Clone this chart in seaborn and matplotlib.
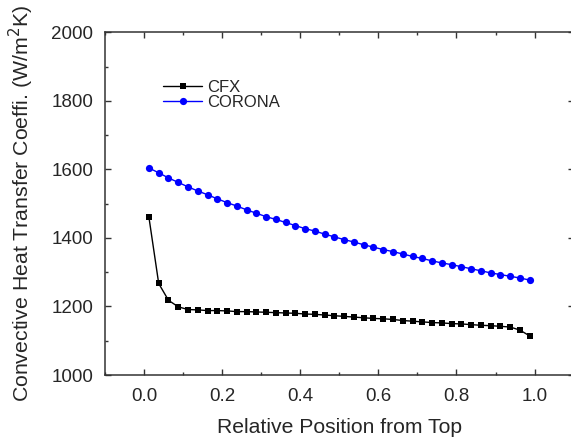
import matplotlib
matplotlib.use("Agg")
import matplotlib.pyplot as plt
import seaborn as sns
from matplotlib.ticker import MultipleLocator

# relative position from top (same positions for both series)
position = [0.0125, 0.0375, 0.0625, 0.0875, 0.1125, 0.1375, 0.1625, 0.1875,
            0.2125, 0.2375, 0.2625, 0.2875, 0.3125, 0.3375, 0.3625, 0.3875,
            0.4125, 0.4375, 0.4625, 0.4875, 0.5125, 0.5375, 0.5625, 0.5875,
            0.6125, 0.6375, 0.6625, 0.6875, 0.7125, 0.7375, 0.7625, 0.7875,
            0.8125, 0.8375, 0.8625, 0.8875, 0.9125, 0.9375, 0.9625, 0.9875]

cfx = [1460, 1267, 1218, 1199, 1191, 1190, 1188, 1188, 1187, 1185,
       1185, 1184, 1183, 1182, 1181, 1180, 1178, 1177, 1175, 1173,
       1171, 1169, 1167, 1165, 1164, 1162, 1159, 1157, 1155, 1153,
       1152, 1150, 1149, 1147, 1145, 1144, 1142, 1140, 1131, 1114]

corona = [1604, 1590, 1575, 1562, 1549, 1537, 1526, 1514, 1503, 1493,
          1482, 1472, 1462, 1454, 1445, 1436, 1427, 1420, 1411, 1403,
          1395, 1388, 1380, 1373, 1366, 1360, 1353, 1346, 1340, 1333,
          1327, 1322, 1316, 1310, 1304, 1298, 1293, 1288, 1283, 1277]

sns.set_style("ticks")
plt.rcParams['font.family'] = ['Liberation Sans', 'DejaVu Sans']

fig = plt.figure(figsize=(5.71, 4.44), dpi=100)
# right edge of the frame sits just outside the picture, like the original
ax = fig.add_axes([0.1839, 0.1554, 0.8207, 0.7719])

sns.lineplot(x=position, y=cfx, ax=ax, color="black", marker="s",
             markersize=4.3, markeredgewidth=0, linewidth=1.0, label="CFX")
sns.lineplot(x=position, y=corona, ax=ax, color="#0000ff", marker="o",
             markersize=5.2, markeredgewidth=0, linewidth=1.0,
             label="CORONA")

ax.set_xlim(-0.1, 1.1)
ax.set_ylim(1000, 2000)
ax.xaxis.set_major_locator(MultipleLocator(0.2))
ax.xaxis.set_minor_locator(MultipleLocator(0.1))
ax.yaxis.set_major_locator(MultipleLocator(200))
ax.yaxis.set_minor_locator(MultipleLocator(100))
ax.set_xticks([0.0, 0.2, 0.4, 0.6, 0.8, 1.0])
ax.set_xticklabels(["0.0", "0.2", "0.4", "0.6", "0.8", "1.0"])

ax.tick_params(which="both", direction="in", top=True, right=True,
               width=1.0, color="#333333")
ax.tick_params(which="major", length=4.5, labelsize=13.5)
ax.tick_params(axis="x", which="major", pad=9.5)
ax.tick_params(axis="y", which="major", pad=8.4)
ax.tick_params(which="minor", length=2.3)
for s in ax.spines.values():
    s.set_linewidth(1.1)
    s.set_color("#333333")

ax.set_xlabel("Relative Position from Top", fontsize=15.2, labelpad=9.5)
ax.set_ylabel("Convective Heat Transfer Coeffi. (W/m$^2$K)", fontsize=15.3,
              labelpad=11)

ax.legend(loc="upper left", bbox_to_anchor=(0.2855, 0.8198),
          bbox_transform=fig.transFigure, frameon=False, fontsize=12,
          handlelength=2.35, handletextpad=0.3, labelspacing=0.0,
          borderpad=0, borderaxespad=0)

fig.savefig("out.png", dpi=100)
